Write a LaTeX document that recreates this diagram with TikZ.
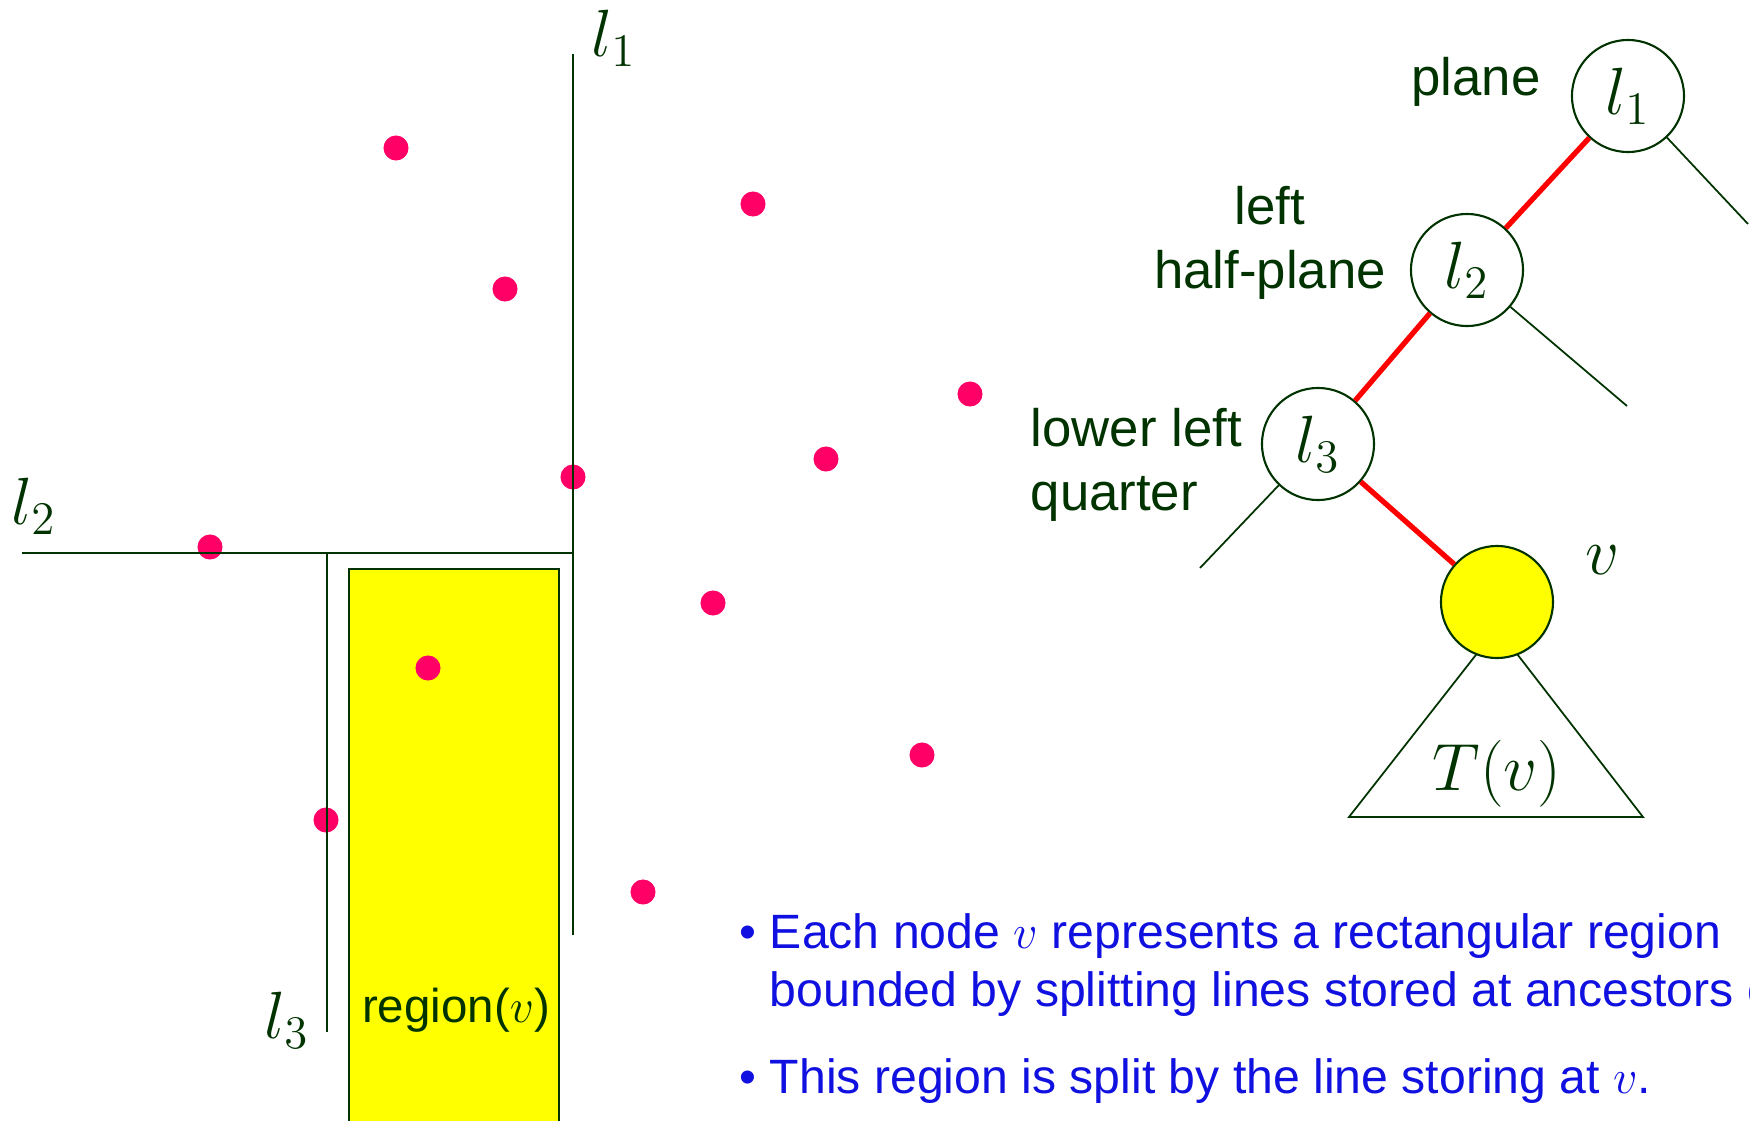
\RequirePackage{fix-cm}
\documentclass[tikz,border=0pt]{standalone}
\usepackage[no-math]{fontspec}
\setmainfont{Liberation Sans}
\definecolor{dkgreen}{RGB}{0,51,0}
\definecolor{dotpink}{RGB}{255,0,102}
\definecolor{txtblue}{RGB}{16,16,224}
\definecolor{hiyellow}{RGB}{255,255,0}
\begin{document}
\begin{tikzpicture}[x=0.01cm, y=-0.01cm,
    every node/.style={text=dkgreen, inner sep=0pt},
    splitline/.style={draw=dkgreen, line width=0.55pt},
    mathlbl/.style={font=\fontsize{19}{22}\selectfont},
    tnode/.style={circle, draw=dkgreen, line width=0.6pt, minimum size=1.12cm, font=\fontsize{19}{22}\selectfont},
    treeedge/.style={draw=dkgreen, line width=0.5pt},
    pathedge/.style={draw=red, line width=1.5pt},
    ptdot/.style={circle, fill=dotpink, minimum size=0.25cm},
    note/.style={font=\fontsize{15}{18}\selectfont},
    bulletline/.style={text=txtblue, font=\fontsize{13.7}{16.5}\selectfont, align=left}
]
    \useasboundingbox (0,0) rectangle (1750,1121);
    \fill[hiyellow] (349,569) rectangle (559,1140);
    \draw[dkgreen, line width=0.6pt] (349,1140) -- (349,569) -- (559,569) -- (559,1140);
    \node[font=\fontsize{13.5}{16}\selectfont, anchor=base] (regionlbl) at (456,1022) {region($v$)};
    \foreach \px/\py [count=\i] in {396/148, 753/204, 505/289, 970/394, 826/459, 573/477, 210/547, 713/603, 428/668, 922/755, 326/820, 643/892}
        \node[ptdot] (p\i) at (\px,\py) {};
    \coordinate (s1top) at (573,54);
    \coordinate (s1bot) at (573,935);
    \coordinate (s2left) at (22,553);
    \coordinate (s2right) at (573,553);
    \coordinate (s3top) at (327,553);
    \coordinate (s3bot) at (327,1032);
    \draw[splitline] (s1top) -- (s1bot);
    \draw[splitline] (s2left) -- (s2right);
    \draw[splitline] (s3top) -- (s3bot);
    \node[mathlbl] (l1lbl) at (614,38) {$l_1$};
    \node[mathlbl] (l2lbl) at (34,506) {$l_2$};
    \node[mathlbl] (l3lbl) at (287,1020) {$l_3$};

    \node[tnode] (l1) at (1628,96) {$l_1$};
    \node[tnode] (l2) at (1467,270) {$l_2$};
    \node[tnode] (l3) at (1318,444) {$l_3$};
    \coordinate (apex) at (1497,628);
    \coordinate (tl) at (1349,817);
    \coordinate (tr) at (1643,817);
    \draw[treeedge] (apex) -- (tl) -- (tr) -- cycle;
    \node[tnode, fill=hiyellow] (v) at (1497,602) {};
    \node[mathlbl, anchor=base] (tv) at (1497,790) {$T(v)$};
    \node[mathlbl] (vlbl) at (1603,560) {$v$};
    \coordinate (c1) at (1748,224);
    \coordinate (c2) at (1627,406);
    \coordinate (c3) at (1200,568);
    \draw[treeedge] (l1) -- (c1);
    \draw[treeedge] (l2) -- (c2);
    \draw[treeedge] (l3) -- (c3);
    \draw[pathedge] (l1) -- (l2);
    \draw[pathedge] (l2) -- (l3);
    \draw[pathedge] (l3) -- (v);
    \node[note, anchor=base] (plane) at (1476,96) {plane};
    \node[note, align=center] (halfplane) at (1270,243) {left\\half-plane};
    \node[note, align=left, anchor=west] (quarter) at (1030,465) {lower left\\quarter};

    \node[bulletline, anchor=north west] (item1) at (739,913) {\textbullet{} Each node $v$ represents a rectangular region\\\phantom{\textbullet{} }bounded by splitting lines stored at ancestors of $v$.};
    \node[bulletline, anchor=base west] (item2) at (739,1093) {\textbullet{} This region is split by the line storing at $v$.};
\end{tikzpicture}
\end{document}
